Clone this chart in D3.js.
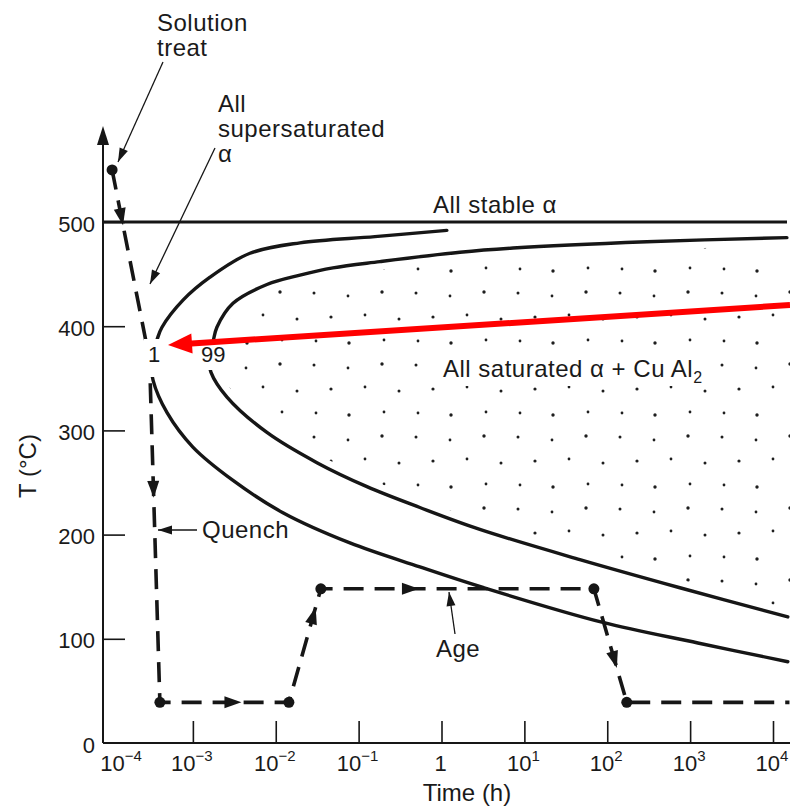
<!DOCTYPE html>
<html><head><meta charset="utf-8">
<script src="https://cdn.jsdelivr.net/npm/d3@7"></script>
<style>
body{margin:0;background:#fff}
svg{display:block}
text{font-family:"Liberation Sans",Arial,Helvetica,sans-serif;fill:#1a1a1a}
</style>
</head><body>
<svg id="c" width="790" height="808"></svg>
<script>
// ---------- data ----------
const xTickExponents = [-4, -3, -2, -1, 0, 1, 2, 3, 4];
const yTickValues = [0, 100, 200, 300, 400, 500];
const stableLineT = 500;

// 1% transformation C-curve (time h, temperature °C), upper branch -> nose -> lower branch
const curve1Time = [1.16, 0.157, 0.0196, 0.00489, 0.00161, 7.6e-4, 4.24e-4, 3.69e-4, 3.12e-4, 3.31e-4, 4.88e-4, 1.0e-3, 3.05e-3, 0.0122, 0.0785, 0.548, 3.24, 86, 1240, 15100];
const curve1Temp = [492, 486, 480, 470, 447, 425, 399, 387, 368, 348, 317, 284, 252, 221, 192, 169, 149, 116, 96, 78];

// 99% transformation C-curve
const curve2Time = [14700, 300, 7.3, 1.67, 0.181, 0.049, 0.0196, 0.00783, 3.05e-3, 1.95e-3, 1.75e-3, 1.56e-3, 1.65e-3, 2.58e-3, 7.83e-3, 0.0314, 0.126, 0.548, 2.9, 46.7, 752, 15100];
const curve2Temp = [485, 481, 475, 471, 462, 456, 449, 440, 422, 399, 385, 370, 356, 332, 298, 269, 246, 226, 205, 176, 149, 121];

// heat-treatment path: solution treat -> quench -> age -> cool
const pathTime = [1.06e-4, 3.0e-4, 4.0e-4, 0.0144, 0.035, 69, 172, 15800];
const pathTemp = [550, 368, 39, 39, 148, 148, 39, 39];
const pathMarked = [true, false, true, true, true, true, true, false];
const pathArrowFrac = [0.25, 0.38, 0.57, 0.77, 0.33, 0.63, null];

// ---------- drawing ----------
const svg = d3.select("#c");
const left = 103, right = 790, bottom = 743;
const x = d3.scaleLog().domain([1e-4, 1e4]).range([110, 773]);
const y = d3.scaleLinear().domain([0, 500]).range([743, 222]);
const ink = "#161616";

const defs = svg.append("defs");
defs.append("clipPath").attr("id", "plot").append("rect")
  .attr("x", left).attr("y", 100).attr("width", right - left).attr("height", bottom - 100);

// stipple pattern
const pat = defs.append("pattern").attr("id", "stip").attr("patternUnits", "userSpaceOnUse")
  .attr("width", 102).attr("height", 72);
[[8,5,1.5],[42,8,1.4],[76,4,1.7],[25,29,1.6],[59,27,1.4],[93,31,1.5],[10,53,1.4],[43,55,1.7],[78,52,1.4]]
  .forEach(d => pat.append("circle").attr("cx", d[0]).attr("cy", d[1]).attr("r", d[2]).attr("fill", "#1e1e1e"));

const pts = (ts, vs) => ts.map((t, i) => [x(t), y(vs[i])]);
const c1 = pts(curve1Time, curve1Temp);
const c2 = pts(curve2Time, curve2Temp);
const line = d3.line().curve(d3.curveCatmullRom.alpha(0.5));

const gp = svg.append("g").attr("clip-path", "url(#plot)");

// stippled region inside 99% curve
gp.append("path").attr("d", line(c2) + "L" + right + "," + y(curve2Temp[curve2Temp.length - 1]) + "L" + right + "," + y(curve2Temp[0]) + "Z")
  .attr("fill", "url(#stip)");
// clear halo near curve
gp.append("path").attr("d", line(c2)).attr("fill", "none").attr("stroke", "#fff").attr("stroke-width", 16);

// white box behind region label
svg.append("rect").attr("x", 437).attr("y", 354).attr("width", 276).attr("height", 32).attr("fill", "#fff");

// curves
[c1, c2].forEach(c => gp.append("path").attr("d", line(c)).attr("fill", "none")
  .attr("stroke", ink).attr("stroke-width", 3.4).attr("stroke-linecap", "round"));

// stable line at 500
svg.append("line").attr("x1", left).attr("x2", 787).attr("y1", y(stableLineT)).attr("y2", y(stableLineT))
  .attr("stroke", ink).attr("stroke-width", 3);

// axes
svg.append("line").attr("x1", left).attr("x2", right).attr("y1", bottom).attr("y2", bottom)
  .attr("stroke", ink).attr("stroke-width", 2);
svg.append("line").attr("x1", left).attr("x2", left).attr("y1", bottom).attr("y2", 138)
  .attr("stroke", ink).attr("stroke-width", 2);
svg.append("path").attr("d", `M${left},126 L${left - 6},145 L${left + 6},145 Z`).attr("fill", ink);

const yAxis = svg.append("g").attr("transform", `translate(${left},0)`)
  .call(d3.axisLeft(y).tickValues(yTickValues).tickSize(-22).tickPadding(8).tickFormat(d3.format("d")));
yAxis.select(".domain").remove();
yAxis.selectAll(".tick line").attr("stroke", ink).attr("stroke-width", 1.6).filter(d => d === 0).remove();
yAxis.selectAll(".tick text").attr("font-size", 22).attr("dy", "0.41em").attr("fill", ink)
  .style("font-family", '"Liberation Sans",Arial,sans-serif');

const xTicks = xTickExponents.map(e => Math.pow(10, e));
const xAxis = svg.append("g").attr("transform", `translate(0,${bottom})`)
  .call(d3.axisBottom(x).tickValues(xTicks.slice(1)).tickSize(-22).tickFormat(""));
xAxis.select(".domain").remove();
xAxis.selectAll(".tick line").attr("stroke", ink).attr("stroke-width", 1.6);

const xl = svg.append("g");
xTickExponents.forEach((e, i) => {
  const cx = x(xTicks[i]) + (i === 0 ? 11 : -1);
  const t = xl.append("text").attr("x", cx).attr("y", 771).attr("text-anchor", "middle").attr("font-size", 22);
  if (e === 0) { t.text("1"); return; }
  t.append("tspan").text("10");
  t.append("tspan").attr("dy", -10).attr("font-size", 15).text(e < 0 ? "\u2212" + (-e) : String(e));
});

svg.append("text").attr("x", 467).attr("y", 801).attr("text-anchor", "middle").attr("font-size", 24).text("Time (h)");
svg.append("text").attr("transform", "translate(36,466) rotate(-90)").attr("text-anchor", "middle")
  .attr("font-size", 24).text("T (\u00B0C)");

// heat-treatment dashed path
const pp = pts(pathTime, pathTemp);
svg.append("path").attr("d", d3.line()(pp)).attr("fill", "none").attr("stroke", ink)
  .attr("stroke-width", 3.6).attr("stroke-dasharray", "20,11");

function tri(g, px, py, dx, dy, len, hw, color) {
  const L = Math.hypot(dx, dy), ux = dx / L, uy = dy / L;
  const bx = px - ux * len, by = py - uy * len;
  g.append("path").attr("d", `M${px},${py} L${bx - uy * hw},${by + ux * hw} L${bx + uy * hw},${by - ux * hw} Z`)
    .attr("fill", color);
}
pathArrowFrac.forEach((f, i) => {
  if (f == null) return;
  const a = pp[i], b = pp[i + 1];
  const mx = a[0] + f * (b[0] - a[0]), my = a[1] + f * (b[1] - a[1]);
  const dx = b[0] - a[0], dy = b[1] - a[1], L = Math.hypot(dx, dy);
  tri(svg, mx + dx / L * 8, my + dy / L * 8, dx, dy, 17, 6, ink);
});
pp.forEach((p, i) => { if (pathMarked[i]) svg.append("circle").attr("cx", p[0]).attr("cy", p[1]).attr("r", 5.5).attr("fill", ink); });

// curve labels with white gaps
svg.append("rect").attr("x", 144).attr("y", 339).attr("width", 20).attr("height", 38).attr("fill", "#fff");
svg.append("rect").attr("x", 199).attr("y", 341).attr("width", 31).attr("height", 29).attr("fill", "#fff");
svg.append("text").attr("x", 154).attr("y", 362).attr("text-anchor", "middle").attr("font-size", 22).text("1");
svg.append("text").attr("x", 201).attr("y", 362).attr("font-size", 22).text("99");

// annotations
const fs = 24, ls = "0.5px";
const ann = (tx, ty, s) => svg.append("text").attr("x", tx).attr("y", ty).attr("font-size", fs)
  .attr("letter-spacing", ls).text(s);
ann(157, 31, "Solution");
ann(157, 56, "treat");
ann(218, 112, "All");
ann(218, 137, "supersaturated");
ann(218, 162, "\u03B1");
ann(433, 213, "All stable \u03B1");
svg.append("text").attr("x", 443).attr("y", 377).attr("font-size", fs).attr("letter-spacing", ls)
  .html('All saturated \u03B1 + Cu Al<tspan dy="6" font-size="16">2</tspan>');
ann(202, 538, "Quench");
ann(436, 657, "Age");

function pointer(x1, y1, x2, y2) {
  svg.append("line").attr("x1", x1).attr("y1", y1).attr("x2", x2).attr("y2", y2)
    .attr("stroke", ink).attr("stroke-width", 1.3);
  tri(svg, x2, y2, x2 - x1, y2 - y1, 14, 4.5, ink);
}
pointer(163, 62, 118, 162);
pointer(215, 148, 150, 284);
pointer(197, 530, 158, 530);
pointer(455, 634, 449, 592);

// red highlight arrow
(function () {
  const x1 = 790, y1 = 305, x2 = 168, y2 = 345;
  const dx = x2 - x1, dy = y2 - y1, L = Math.hypot(dx, dy);
  svg.append("line").attr("x1", x1).attr("y1", y1).attr("x2", x2 - dx / L * 20).attr("y2", y2 - dy / L * 20)
    .attr("stroke", "#ff0000").attr("stroke-width", 6);
  tri(svg, x2, y2, dx, dy, 24, 10, "#ff0000");
})();
</script>
</body></html>
